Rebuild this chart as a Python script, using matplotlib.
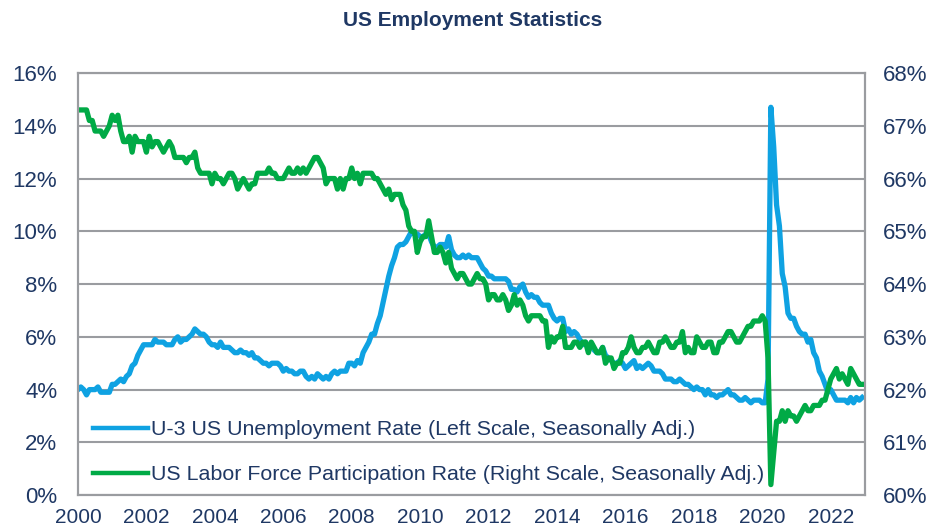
import matplotlib
matplotlib.use('Agg')
import matplotlib.pyplot as plt
import numpy as np

# monthly data, Jan 2000 - Dec 2022
years = list(range(2000, 2023))

unrate = [
    [4.0, 4.1, 4.0, 3.8, 4.0, 4.0, 4.0, 4.1, 3.9, 3.9, 3.9, 3.9],
    [4.2, 4.2, 4.3, 4.4, 4.3, 4.5, 4.6, 4.9, 5.0, 5.3, 5.5, 5.7],
    [5.7, 5.7, 5.7, 5.9, 5.8, 5.8, 5.8, 5.7, 5.7, 5.7, 5.9, 6.0],
    [5.8, 5.9, 5.9, 6.0, 6.1, 6.3, 6.2, 6.1, 6.1, 6.0, 5.8, 5.7],
    [5.7, 5.6, 5.8, 5.6, 5.6, 5.6, 5.5, 5.4, 5.4, 5.5, 5.4, 5.4],
    [5.3, 5.4, 5.2, 5.2, 5.1, 5.0, 5.0, 4.9, 5.0, 5.0, 5.0, 4.9],
    [4.7, 4.8, 4.7, 4.7, 4.6, 4.6, 4.7, 4.7, 4.5, 4.4, 4.5, 4.4],
    [4.6, 4.5, 4.4, 4.5, 4.4, 4.6, 4.7, 4.6, 4.7, 4.7, 4.7, 5.0],
    [5.0, 4.9, 5.1, 5.0, 5.4, 5.6, 5.8, 6.1, 6.1, 6.5, 6.8, 7.3],
    [7.8, 8.3, 8.7, 9.0, 9.4, 9.5, 9.5, 9.6, 9.8, 10.0, 9.9, 9.9],
    [9.8, 9.8, 9.9, 9.9, 9.6, 9.4, 9.4, 9.5, 9.5, 9.4, 9.8, 9.3],
    [9.1, 9.0, 9.0, 9.1, 9.0, 9.1, 9.0, 9.0, 9.0, 8.8, 8.6, 8.5],
    [8.3, 8.3, 8.2, 8.2, 8.2, 8.2, 8.2, 8.1, 7.8, 7.8, 7.7, 7.9],
    [8.0, 7.7, 7.5, 7.6, 7.5, 7.5, 7.3, 7.2, 7.2, 7.2, 6.9, 6.7],
    [6.6, 6.7, 6.7, 6.2, 6.3, 6.1, 6.2, 6.1, 5.9, 5.7, 5.8, 5.6],
    [5.7, 5.5, 5.4, 5.4, 5.6, 5.3, 5.2, 5.1, 5.0, 5.0, 5.1, 5.0],
    [4.8, 4.9, 5.0, 5.1, 4.8, 4.9, 4.8, 4.9, 5.0, 4.9, 4.7, 4.7],
    [4.7, 4.6, 4.4, 4.4, 4.4, 4.3, 4.3, 4.4, 4.3, 4.2, 4.2, 4.1],
    [4.0, 4.1, 4.0, 4.0, 3.8, 4.0, 3.8, 3.8, 3.7, 3.8, 3.8, 3.9],
    [4.0, 3.8, 3.8, 3.7, 3.6, 3.6, 3.7, 3.6, 3.5, 3.6, 3.6, 3.6],
    [3.5, 3.5, 4.4, 14.7, 13.2, 11.0, 10.2, 8.4, 7.9, 6.9, 6.7, 6.7],
    [6.4, 6.2, 6.1, 6.1, 5.8, 5.9, 5.4, 5.2, 4.7, 4.5, 4.2, 3.9],
    [4.0, 3.8, 3.6, 3.6, 3.6, 3.6, 3.5, 3.7, 3.5, 3.7, 3.6, 3.7],
]

lfpr = [
    [67.3, 67.3, 67.3, 67.3, 67.1, 67.1, 66.9, 66.9, 66.9, 66.8, 66.9, 67.0],
    [67.2, 67.1, 67.2, 66.9, 66.7, 66.7, 66.8, 66.5, 66.8, 66.7, 66.7, 66.7],
    [66.5, 66.8, 66.6, 66.7, 66.7, 66.6, 66.5, 66.6, 66.7, 66.6, 66.4, 66.4],
    [66.4, 66.4, 66.3, 66.4, 66.4, 66.5, 66.2, 66.1, 66.1, 66.1, 66.1, 65.9],
    [66.1, 66.0, 66.0, 65.9, 66.0, 66.1, 66.1, 66.0, 65.8, 65.9, 66.0, 65.9],
    [65.8, 65.9, 65.9, 66.1, 66.1, 66.1, 66.1, 66.2, 66.1, 66.1, 66.0, 66.0],
    [66.0, 66.1, 66.2, 66.1, 66.1, 66.2, 66.1, 66.2, 66.1, 66.2, 66.3, 66.4],
    [66.4, 66.3, 66.2, 65.9, 66.0, 66.0, 66.0, 65.8, 66.0, 65.8, 66.0, 66.0],
    [66.2, 66.0, 66.1, 65.9, 66.1, 66.1, 66.1, 66.1, 66.0, 66.0, 65.9, 65.8],
    [65.7, 65.8, 65.6, 65.7, 65.7, 65.7, 65.5, 65.4, 65.1, 65.0, 65.0, 64.6],
    [64.8, 64.9, 64.9, 65.2, 64.9, 64.6, 64.6, 64.7, 64.6, 64.4, 64.6, 64.3],
    [64.2, 64.1, 64.2, 64.2, 64.1, 64.0, 64.0, 64.1, 64.2, 64.1, 64.1, 64.0],
    [63.7, 63.8, 63.8, 63.7, 63.7, 63.8, 63.7, 63.5, 63.6, 63.8, 63.6, 63.7],
    [63.6, 63.4, 63.3, 63.4, 63.4, 63.4, 63.4, 63.3, 63.3, 62.8, 63.0, 62.9],
    [63.0, 63.0, 63.2, 62.8, 62.8, 62.8, 62.9, 62.9, 62.8, 62.9, 62.9, 62.7],
    [62.9, 62.8, 62.7, 62.7, 62.8, 62.5, 62.6, 62.6, 62.4, 62.5, 62.5, 62.7],
    [62.7, 62.8, 63.0, 62.8, 62.7, 62.7, 62.8, 62.8, 62.9, 62.8, 62.7, 62.7],
    [62.9, 62.9, 63.0, 62.9, 62.8, 62.8, 62.9, 62.9, 63.1, 62.7, 62.8, 62.7],
    [62.7, 63.0, 62.9, 62.8, 62.8, 62.9, 62.9, 62.7, 62.7, 62.9, 62.9, 63.0],
    [63.1, 63.1, 63.0, 62.9, 62.9, 63.0, 63.1, 63.2, 63.2, 63.3, 63.3, 63.3],
    [63.4, 63.3, 62.6, 60.2, 60.8, 61.4, 61.4, 61.6, 61.4, 61.6, 61.5, 61.5],
    [61.4, 61.5, 61.6, 61.7, 61.6, 61.6, 61.7, 61.7, 61.7, 61.8, 61.8, 62.0],
    [62.2, 62.3, 62.4, 62.2, 62.3, 62.2, 62.1, 62.4, 62.3, 62.2, 62.1, 62.1],
]

x_tick_labels = [str(y) for y in range(2000, 2023, 2)]
left_ticks = [0, 2, 4, 6, 8, 10, 12, 14, 16]
right_ticks = [60, 61, 62, 63, 64, 65, 66, 67, 68]

dates = np.array([y + m / 12 for y in years for m in range(12)])
ur = np.array(unrate).ravel()
lf = np.array(lfpr).ravel()

NAVY = '#1f3864'
BLUE = '#0fa2e2'
GREEN = '#00aa46'
GRID = '#9a9ca0'

plt.rcParams['font.family'] = ['Liberation Sans', 'DejaVu Sans']

fig = plt.figure(figsize=(9.45, 5.29), dpi=100)
ax = fig.add_axes([0.0825, 0.064, 0.8328, 0.798])
ax2 = ax.twinx()

l2, = ax2.plot(dates, lf, color=GREEN, linewidth=3.8, solid_joinstyle='round',
               label='US Labor Force Participation Rate (Right Scale, Seasonally Adj.)')
l1, = ax.plot(dates, ur, color=BLUE, linewidth=3.8, solid_joinstyle='round',
              label='U-3 US Unemployment Rate (Left Scale, Seasonally Adj.)')
# green drawn above blue, as in the reference
ax2.set_zorder(ax.get_zorder() + 1)
ax2.patch.set_visible(False)

ax.set_xlim(2000, 2023)
ax.set_ylim(0, 16)
ax2.set_ylim(60, 68)

ax.set_xticks(range(2000, 2023, 2))
ax.set_xticklabels(x_tick_labels)
ax.set_yticks(left_ticks)
ax.set_yticklabels([f'{v}%' for v in left_ticks])
ax2.set_yticks(right_ticks)
ax2.set_yticklabels([f'{v}%' for v in right_ticks])

ax.grid(axis='y', color=GRID, linewidth=1.5)
ax.grid(axis='x', visible=False)
ax.set_axisbelow(True)

for a in (ax, ax2):
    a.tick_params(length=0, labelcolor=NAVY)
    for s in a.spines.values():
        s.set_color(GRID)
        s.set_linewidth(1.5)
ax.tick_params(axis='y', labelsize=16, pad=15)
ax2.tick_params(axis='y', labelsize=16, pad=13)
ax.tick_params(axis='x', labelsize=15, pad=9)

fig.text(0.5, 0.962, 'US Employment Statistics', ha='center', va='center',
         fontsize=15, fontweight='bold', color=NAVY)

leg = ax2.legend(handles=[l1, l2], loc='lower left', bbox_to_anchor=(0.005, 0.0),
                 frameon=False, fontsize=15.4, labelcolor=NAVY,
                 handlelength=2.6, handletextpad=0.15, labelspacing=1.22,
                 borderaxespad=0.2, borderpad=0.3)
for h in leg.legend_handles:
    h.set_linewidth(3.2)

fig.savefig('out.png', dpi=100)
